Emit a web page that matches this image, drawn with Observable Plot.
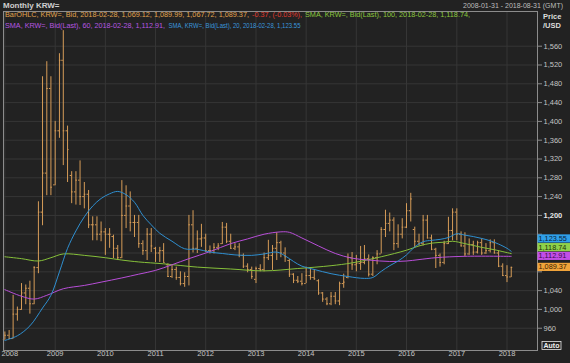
<!DOCTYPE html>
<html><head><meta charset="utf-8">
<script src="https://cdn.jsdelivr.net/npm/d3@7"></script>
<script src="https://cdn.jsdelivr.net/npm/@observablehq/plot@0.6"></script>
<style>html,body{margin:0;padding:0;background:#222;overflow:hidden}</style>
</head><body><div id="chart"></div>
<script>
// ---- Data (monthly USD/KRW bid bars, Jan 2008 .. Feb 2018) ----
const startMonth = "2008-01-01";
const opens = [936,945,938,990,1000,1035,1045,1012,1089,1207,1290,1470,
 1265,1380,1530,1380,1285,1250,1275,1240,1245,1180,1180,1160,
 1165,1160,1155,1130,1110,1200,1220,1185,1185,1140,1125,1160,
 1130,1120,1125,1095,1070,1085,1068,1055,1070,1180,1130,1150,
 1152,1125,1125,1132,1140,1175,1145,1130,1133,1115,1092,1085,
 1064,1087,1085,1110,1115,1130,1142,1120,1104,1075,1062,1060,
 1055,1072,1068,1061,1035,1022,1012,1028,1018,1055,1068,1110,
 1095,1098,1100,1108,1075,1110,1118,1170,1183,1190,1140,1160,
 1175,1210,1170,1145,1140,1190,1152,1128,1115,1100,1140,1168,
 1207,1160,1135,1118,1138,1122,1142,1120,1125,1142,1120,1092,
 1072,1069.12];
const highs = [952,955,1030,1005,1055,1052,1060,1091,1229,1495,1527,1495,
 1400,1544,1593,1390,1293,1293,1316,1270,1253,1197,1197,1186,
 1172,1172,1158,1136,1274,1263,1250,1200,1200,1146,1172,1172,
 1132,1132,1140,1097,1095,1090,1080,1078,1200,1210,1167,1181,
 1160,1135,1140,1140,1185,1183,1160,1140,1140,1118,1097,1090,
 1090,1095,1120,1147,1136,1163,1145,1131,1106,1076,1070,1076,
 1090,1088,1085,1063,1036,1025,1036,1036,1058,1075,1118,1121,
 1115,1134,1136,1116,1112,1125,1174,1211,1205,1195,1180,1193,
 1225,1247,1175,1160,1200,1200,1158,1130,1118,1145,1196,1214,
 1214,1165,1163,1150,1145,1145,1150,1140,1148,1148,1125,1097,
 1093,1089.99];
const lows = [935,937,937,975,998,1010,990,1010,1076,1178,1242,1242,
 1263,1364,1306,1270,1225,1222,1221,1214,1172,1146,1146,1144,
 1115,1130,1108,1104,1108,1172,1165,1153,1130,1115,1104,1121,
 1100,1100,1100,1068,1066,1062,1050,1047,1050,1120,1119,1132,
 1121,1118,1118,1125,1138,1140,1128,1125,1110,1087,1078,1064,
 1055,1080,1080,1104,1083,1104,1110,1100,1068,1055,1055,1050,
 1055,1062,1062,1030,1015,1008,1008,1010,1008,1045,1065,1083,
 1080,1083,1095,1069,1070,1095,1118,1153,1165,1125,1130,1150,
 1172,1186,1130,1135,1135,1150,1125,1087,1090,1095,1138,1146,
 1146,1133,1112,1115,1115,1118,1115,1117,1120,1118,1089,1070,
 1057,1067.72];
const closes = [945,938,990,1000,1035,1045,1012,1089,1207,1290,1470,1260,
 1380,1530,1380,1340,1250,1275,1240,1245,1180,1180,1160,1165,
 1160,1160,1130,1110,1200,1220,1185,1185,1140,1125,1160,1135,
 1120,1125,1100,1070,1085,1068,1055,1070,1180,1130,1150,1152,
 1125,1125,1132,1135,1175,1145,1130,1133,1115,1092,1085,1070,
 1087,1085,1110,1115,1130,1142,1120,1112,1075,1062,1060,1055,
 1072,1068,1065,1035,1022,1012,1028,1018,1055,1058,1110,1095,
 1098,1100,1108,1075,1110,1118,1170,1183,1190,1140,1160,1175,
 1210,1235,1145,1140,1190,1152,1128,1115,1100,1140,1168,1207,
 1160,1135,1118,1138,1122,1142,1120,1125,1142,1120,1092,1072,
 1069,1089.37];

// Moving averages
const sma20Months = ["2008-01","2008-04","2008-07","2008-10","2008-12","2009-02","2009-04","2009-06","2009-08","2009-10","2009-12","2010-02","2010-04","2010-06","2010-08","2010-10","2010-12","2011-02","2011-05","2011-08","2011-11","2012-02","2012-05","2012-08","2012-12","2013-03","2013-06","2013-08","2013-10","2013-12","2014-03","2014-07","2014-11","2015-03","2015-05","2015-07","2015-09","2015-11","2016-01","2016-03","2016-05","2016-07","2016-09","2016-11","2017-01","2017-03","2017-05","2017-07","2017-09","2017-11","2018-01","2018-02"];
const sma20Values = [934,944,965,1003,1030,1080,1130,1167,1197,1220,1236,1246,1251,1244,1228,1200,1180,1162,1145,1129,1128,1122,1119,1116,1115,1118,1122,1114,1102,1092,1085,1076,1070,1066,1068,1081,1093,1103,1116,1133,1144,1147,1149,1153,1161,1158,1155,1151,1146,1139,1130,1123.55];
const sma60Months = ["2008-01","2008-05","2008-08","2008-11","2009-03","2009-08","2009-12","2010-05","2010-09","2011-01","2011-05","2011-09","2012-02","2012-07","2012-11","2013-03","2013-07","2013-09","2013-12","2014-04","2014-08","2014-12","2015-04","2015-09","2016-01","2016-04","2016-08","2017-03","2018-02"];
const sma60Values = [1042,1028,1022,1030,1044,1051,1058,1067,1075,1083,1095,1108,1123,1140,1150,1160,1165,1164,1152,1135,1119,1109,1105,1102,1103,1106,1110,1113,1112.91];
const sma100Months = ["2008-01","2008-05","2008-09","2008-12","2009-03","2009-08","2010-01","2010-05","2010-09","2011-03","2011-11","2012-07","2013-03","2013-11","2014-07","2014-12","2015-07","2016-01","2016-04","2016-07","2016-10","2016-12","2017-03","2017-07","2017-10","2018-02"];
const sma100Values = [1112,1108,1103,1110,1118,1115,1110,1105,1101,1097,1090,1086,1082,1087,1093,1099,1112,1126,1135,1141,1143,1145,1140,1132,1127,1118.74];

const yTicks = [960,1000,1040,1080,1120,1160,1200,1240,1280,1320,1360,1400,1440,1480,1520,1560];
const yearLabels = [2008,2009,2010,2011,2012,2013,2014,2015,2016,2017,2018];

const tagValues = [1123.55, 1118.74, 1112.91, 1089.37];
const tagColors = ["#2f9fe8", "#8fd14a", "#c24ee8", "#f0a33a"];
const tagTextColors = ["#0b2440", "#1d3308", "#3a0b4a", "#3a2000"];

// ---- Build tables ----
const start = new Date(startMonth);
const bars = opens.map((o, i) => ({date: d3.utcMonth.offset(start, i), open: o, high: highs[i], low: lows[i], close: closes[i]}));
const mk = (months, vals) => months.map((m, i) => ({date: new Date(m + "-01"), v: vals[i]}));
const s20 = mk(sma20Months, sma20Values), s60 = mk(sma60Months, sma60Values), s100 = mk(sma100Months, sma100Values);
const years = yearLabels.map(y => new Date(Date.UTC(y, 0, 1)));

const barColor = "#d69c58";
const grid = "#363636";
const font = "Tahoma, 'Liberation Sans', Arial, sans-serif";
const fmt = d3.format(",");

const plot = Plot.plot({
  width: 570, height: 363,
  marginLeft: 3, marginRight: 33, marginTop: 11, marginBottom: 13,
  style: {background: "#222", color: "#c8c8c8", fontFamily: font, fontSize: "7.5px", overflow: "visible"},
  x: {type: "utc", domain: [new Date("2007-12-22"), new Date("2018-08-11")], axis: null},
  y: {domain: [912.6, 1633.8]},
  marks: [
    Plot.gridY(yTicks, {stroke: grid, strokeOpacity: 1}),
    Plot.gridX(years, {stroke: grid, strokeOpacity: 1}),
    Plot.ruleX(bars, {x: "date", y1: "low", y2: "high", stroke: barColor, strokeWidth: 1}),
    Plot.ruleY(bars, {y: "open", x1: d => d3.utcDay.offset(d.date, -11), x2: "date", stroke: barColor}),
    Plot.ruleY(bars, {y: "close", x1: "date", x2: d => d3.utcDay.offset(d.date, 11), stroke: barColor}),
    Plot.line(s100, {x: "date", y: "v", stroke: "#86c03a", strokeWidth: 1, curve: "catmull-rom"}),
    Plot.line(s60, {x: "date", y: "v", stroke: "#b84ed8", strokeWidth: 1, curve: "catmull-rom"}),
    Plot.line(s20, {x: "date", y: "v", stroke: "#2f8fd0", strokeWidth: 1, curve: "catmull-rom"}),
    Plot.frame({stroke: "#8c8c8c"}),
    Plot.axisY(yTicks, {anchor: "right", tickSize: 4, tickPadding: 2, stroke: "#8c8c8c", fill: "#c4c4c4", fontSize: 7.5, tickFormat: fmt, label: null}),
    Plot.text(years.slice(0, 1), {x: d => d, frameAnchor: "bottom", dy: 5.5, dx: 5, text: d => String(d.getUTCFullYear()), fill: "#c4c4c4", fontSize: 7.5}),
    Plot.text(years.slice(1), {x: d => d, frameAnchor: "bottom", dy: 5.5, text: d => String(d.getUTCFullYear()), fill: "#c4c4c4", fontSize: 7.5})
  ]
});

document.getElementById("chart").appendChild(plot);
const svg = d3.select(plot);
svg.selectAll("text").filter(function(){ return this.textContent === "1,200"; }).attr("font-weight", "bold").attr("fill", "#e6e6e6");

const y = plot.scale("y");
// value tags on the right axis, stacked upward so they do not overlap
const h = 8.2;
let tags = tagValues.map((v, i) => ({v, c: tagColors[i], tc: tagTextColors[i], py: y.apply(v)}));
tags.sort((a, b) => b.py - a.py);
for (let i = 1; i < tags.length; i++) if (tags[i].py > tags[i-1].py - h - 0.5) tags[i].py = tags[i-1].py - h - 0.5;

// tick labels that sit fully behind a tag are hidden (as in the reference)
const hidden = new Set(yTicks.filter(v => tags.some(t => Math.abs(y.apply(v) - t.py) < h / 2 + 1.5)).map(fmt));
svg.selectAll("text").filter(function(){ return hidden.has(this.textContent); }).remove();

const tg = svg.append("g").attr("text-anchor", "start");
tags.forEach(t => {
  tg.append("rect").attr("x", 537.5).attr("y", t.py - h/2).attr("width", 40).attr("height", h).attr("fill", t.c);
  tg.append("text").attr("x", 538.5).attr("y", t.py).attr("dy", "0.35em").attr("text-anchor", "start").attr("font-size", 7.3).attr("fill", t.tc).attr("font-family", font).text(d3.format(",.2f")(t.v));
});

// header & legend texts
const addText = (x, yy, txt, fill, opts = {}) => {
  const t = svg.append("text").attr("x", x).attr("y", yy).attr("dy", "0.35em")
    .attr("font-family", font).attr("font-size", opts.size || 7.3).attr("font-weight", opts.weight || "normal")
    .attr("fill", fill).attr("text-anchor", opts.anchor || "start").text(txt);
  if (opts.len) t.attr("textLength", opts.len).attr("lengthAdjust", "spacingAndGlyphs");
  return t;
};
addText(3, 5.5, "Monthly KRW=", "#cfcfcf", {size: 8, weight: "bold"});
addText(463, 5.5, "2008-01-31 - 2018-08-31 (GMT)", "#bdbdbd", {len: 100, size: 7});
addText(5, 14.8, "BarOHLC, KRW=, Bid, 2018-02-28, 1,069.12, 1,089.99, 1,067.72, 1,089.37,", "#e0a24e", {len: 244});
addText(252, 14.8, "-0.37, (-0.03%),", "#e03a2e", {len: 50});
addText(305, 14.8, "SMA, KRW=, Bid(Last), 100, 2018-02-28, 1,118.74,", "#8cc63e", {len: 165});
addText(5, 25, "SMA, KRW=, Bid(Last), 60, 2018-02-28, 1,112.91,", "#b656e0", {len: 160});
addText(168.5, 25, "SMA, KRW=, Bid(Last), 20, 2018-02-28, 1,123.55", "#3a96dc", {len: 132});
addText(543, 16.5, "Price", "#dedede", {size: 7.5, weight: "bold"});
addText(543, 25.5, "/USD", "#dedede", {size: 7.5, weight: "bold"});
svg.append("rect").attr("x", 542).attr("y", 341.5).attr("width", 19).attr("height", 8).attr("fill", "#222").attr("stroke", "#e8e8e8").attr("stroke-width", 0.8);
addText(551.5, 345.6, "Auto", "#f0f0f0", {size: 7, weight: "bold", anchor: "middle"});
</script>
</body></html>
